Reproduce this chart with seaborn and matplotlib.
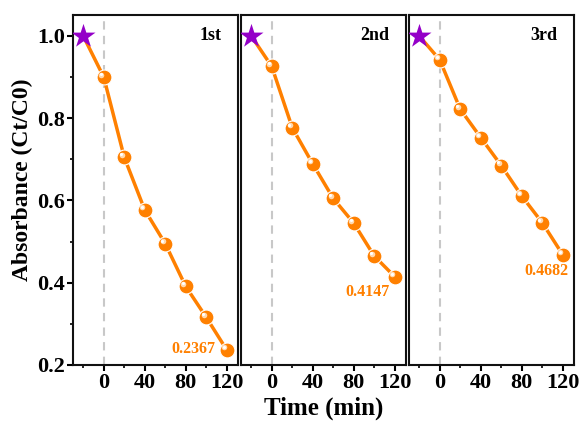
import matplotlib
matplotlib.use("Agg")
import matplotlib.pyplot as plt
from matplotlib.transforms import ScaledTranslation
from matplotlib.ticker import MultipleLocator
import seaborn as sns
import pandas as pd

sns.set_style("ticks")
plt.rcParams['font.family'] = ['Liberation Serif', 'DejaVu Serif']
plt.rcParams['font.weight'] = 'bold'
plt.rcParams['text.color'] = 'black'
plt.rcParams['xtick.color'] = 'black'
plt.rcParams['ytick.color'] = 'black'
plt.rcParams['axes.labelcolor'] = 'black'

times = [-20, 0, 20, 40, 60, 80, 100, 120]
run_labels = ["1st", "2nd", "3rd"]
run1 = [1.0, 0.900, 0.705, 0.577, 0.495, 0.391, 0.316, 0.2367]
run2 = [1.0, 0.926, 0.777, 0.689, 0.605, 0.545, 0.465, 0.4147]
run3 = [1.0, 0.942, 0.822, 0.753, 0.685, 0.611, 0.546, 0.4682]
end_labels = ["0.2367", "0.4147", "0.4682"]
runs = [run1, run2, run3]

orange = "#FF8000"
purple = "#9400C8"

fig = plt.figure(figsize=(5.81, 4.21), dpi=100)
lefts = [73/581, 241/581, 409/581]
w = 165/581
b = 1 - 365/421
h = (365 - 15)/421
axes = [fig.add_axes([l, b, w, h]) for l in lefts]

label_pos = [
    dict(dx=-8, dy=1, ha='right', va='center'),
    dict(dx=-19.5, dy=-11, ha='center', va='center'),
    dict(dx=-12, dy=-12, ha='center', va='center'),
]

for i, (ax, vals) in enumerate(zip(axes, runs)):
    df = pd.DataFrame({"t": times, "v": vals})
    ax.axvline(0, color="#C8C8C8", lw=1.5, ls=(0, (4, 3)), zorder=1)
    sns.lineplot(data=df, x="t", y="v", ax=ax, color=orange, lw=2.5, zorder=2)
    pts = df.iloc[1:]
    sns.scatterplot(data=pts, x="t", y="v", ax=ax, color=orange, s=115,
                    edgecolor="white", linewidth=0.8, zorder=3)
    hl = ax.transData + ScaledTranslation(-1.8/72, 1.8/72, fig.dpi_scale_trans)
    sns.scatterplot(data=pts, x="t", y="v", ax=ax, color="#FFD9B0", s=16,
                    linewidth=0, zorder=4, transform=hl)
    hl2 = ax.transData + ScaledTranslation(-2.2/72, 2.2/72, fig.dpi_scale_trans)
    sns.scatterplot(data=pts, x="t", y="v", ax=ax, color="white", s=5,
                    linewidth=0, zorder=5, transform=hl2)
    star = df.iloc[:1]
    sns.scatterplot(data=star, x="t", y="v", ax=ax, color=purple, marker="*",
                    s=330, linewidth=0, zorder=6)

    ax.set_xlim(-30, 131)
    ax.set_ylim(0.2, 1.051)
    ax.set_xlabel("")
    ax.set_ylabel("")
    ax.set_xticks([0, 40, 80, 120])
    ax.xaxis.set_minor_locator(MultipleLocator(20))
    ax.yaxis.set_major_locator(MultipleLocator(0.2))
    ax.yaxis.set_minor_locator(MultipleLocator(0.1))
    for s in ax.spines.values():
        s.set_visible(True)
        s.set_linewidth(1.5)
        s.set_color("#111111")
    ax.tick_params(which='major', direction='out', length=4, width=1.5,
                   labelsize=16, pad=2, colors='black')
    ax.tick_params(which='minor', direction='out', length=2.5, width=1.2,
                   colors='black')
    if i > 0:
        ax.tick_params(axis='y', which='both', left=False, labelleft=False)
    for lab in ax.get_xticklabels() + ax.get_yticklabels():
        lab.set_fontweight('bold')

    ax.text(0.9, 0.94, run_labels[i], transform=ax.transAxes, ha='right',
            va='center', fontsize=13, fontweight='bold', color='black')
    p = label_pos[i]
    ax.annotate(end_labels[i], xy=(times[-1], vals[-1]),
                xytext=(p['dx'], p['dy']),
                textcoords='offset points', ha=p['ha'], va=p['va'],
                fontsize=11.5, fontweight='bold', color=orange)

axes[0].set_ylabel("Absorbance (Ct/C0)", fontsize=17, fontweight='bold',
                   color='black')
axes[0].yaxis.set_label_coords(-0.245, 0.53)
fig.text((73 + 575) / 2 / 581, 1 - 408/421, "Time (min)", ha='center', va='center',
         fontsize=18, fontweight='bold', color='black')

fig.savefig("out.png", dpi=100)
